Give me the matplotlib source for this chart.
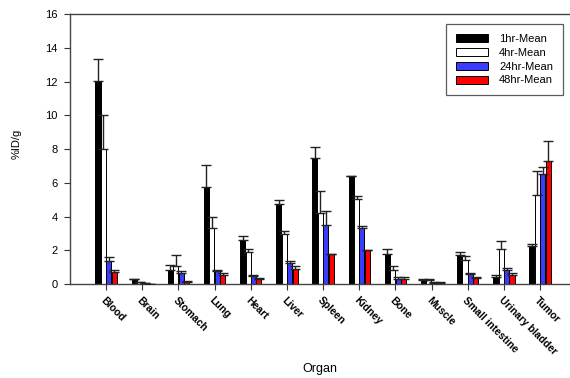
import numpy as np
import matplotlib
matplotlib.use("Agg")
import matplotlib.pyplot as plt

plt.rcParams['font.family'] = ['Liberation Sans', 'DejaVu Sans']

organs = ['Blood', 'Brain', 'Stomach', 'Lung', 'Heart', 'Liver', 'Spleen',
          'Kidney', 'Bone', 'Muscle', 'Small intestine', 'Urinary bladder', 'Tumor']

mean_1h = [12.05, 0.30, 0.85, 5.78, 2.60, 4.73, 7.46, 6.39, 1.79, 0.25, 1.73, 0.45, 2.28]
err_1h = [1.30, 0.02, 0.27, 1.28, 0.24, 0.24, 0.68, 0.02, 0.30, 0.05, 0.16, 0.10, 0.10]
mean_4h = [8.00, 0.12, 1.06, 3.31, 1.93, 2.98, 4.22, 5.05, 0.85, 0.25, 1.44, 2.09, 5.27]
err_4h = [2.00, 0.03, 0.66, 0.65, 0.18, 0.17, 1.28, 0.17, 0.21, 0.05, 0.23, 0.45, 1.42]
mean_24h = [1.38, 0.05, 0.65, 0.79, 0.51, 1.28, 3.51, 3.35, 0.31, 0.10, 0.59, 0.85, 6.53]
err_24h = [0.22, 0.01, 0.15, 0.06, 0.02, 0.08, 0.85, 0.08, 0.10, 0.02, 0.06, 0.10, 0.41]
mean_48h = [0.75, 0.02, 0.15, 0.55, 0.31, 0.89, 1.81, 2.01, 0.31, 0.10, 0.39, 0.55, 7.28]
err_48h = [0.10, 0.01, 0.05, 0.12, 0.06, 0.17, 0.00, 0.00, 0.14, 0.02, 0.04, 0.10, 1.20]

series = [
    ('1hr-Mean', mean_1h, err_1h, 'black'),
    ('4hr-Mean', mean_4h, err_4h, 'white'),
    ('24hr-Mean', mean_24h, err_24h, '#3c3cff'),
    ('48hr-Mean', mean_48h, err_48h, '#ff0000'),
]

fig = plt.figure(figsize=(5.7, 3.78), dpi=100)
ax = fig.add_axes([0.1228, 0.248, 0.888, 0.715])

x = np.arange(len(organs))
width = 0.14
offsets = [-0.225, -0.075, 0.075, 0.225]

for (label, vals, errs, color), off in zip(series, offsets):
    vals = np.array(vals)
    errs = np.array(errs)
    ax.bar(x + off, vals, width, color=color, edgecolor='black', linewidth=0.7,
           label=label, zorder=2)
    # upper error only
    ax.errorbar(x + off, vals, yerr=[np.zeros_like(errs), errs], fmt='none',
                ecolor='#222222', elinewidth=1, capsize=3.6, capthick=1, zorder=3)

ax.set_xlim(-1, 13)
ax.set_ylim(0, 16)
ax.set_yticks(range(0, 17, 2))
ax.set_xticks(x)
ax.set_xticklabels(organs, rotation=-45, ha='left', va='top',
                   rotation_mode='anchor', fontsize=7.5, fontweight='bold')
ax.tick_params(axis='both', direction='out', length=4, width=0.8, color='#333333')
ax.tick_params(axis='y', labelsize=8, pad=5)
ax.tick_params(axis='x', pad=4)

for side in ['left', 'top', 'bottom']:
    ax.spines[side].set_color('#444444')
    ax.spines[side].set_linewidth(1)
ax.spines['right'].set_visible(False)

ax.set_xlabel('Organ', fontsize=9)
ax.xaxis.set_label_coords(0.494, -0.29)
ax.set_ylabel('%ID/g', fontsize=8)
ax.yaxis.set_label_coords(-0.095, 0.52)

leg = ax.legend(loc='upper right', bbox_to_anchor=(0.988, 0.937),
                bbox_transform=fig.transFigure, fancybox=False,
                edgecolor='#333333', fontsize=8, handlelength=2.9,
                handleheight=0.75, labelspacing=0.35, borderpad=0.9,
                handletextpad=1.0, borderaxespad=0)
leg.get_frame().set_linewidth(0.9)

fig.savefig('out.png', dpi=100)
